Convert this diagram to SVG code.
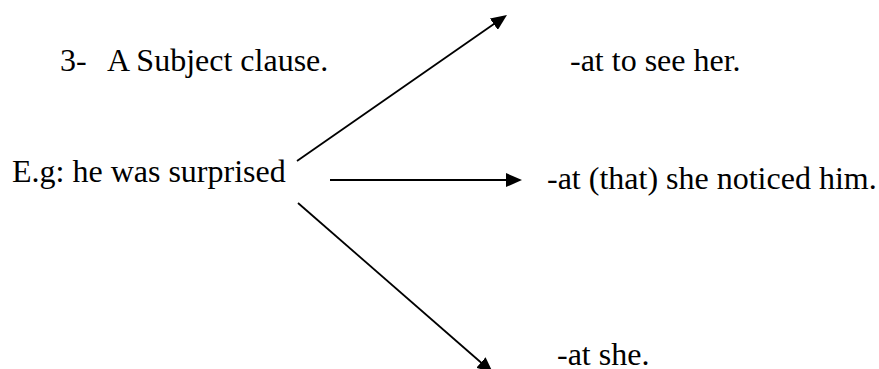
<svg xmlns="http://www.w3.org/2000/svg" width="879" height="369" viewBox="0 0 879 369">
  <style>
    .t { font-family: "Liberation Serif", "Times New Roman", serif; font-size: 32px; fill: #000; }
    .edge { stroke: #000; stroke-width: 1.8; fill: none; marker-end: url(#head); }
  </style>
  <defs>
    <!-- solid triangular arrowhead; refX at mid-length so the line end sits inside it -->
    <marker id="head" markerUnits="userSpaceOnUse" viewBox="0 0 16 14" refX="8" refY="7" markerWidth="16" markerHeight="14" orient="auto">
      <path d="M0,0 L16,7 L0,14 Z" fill="#000"/>
    </marker>
  </defs>
  <rect width="879" height="369" fill="#fff"/>

  <g id="heading">
    <text class="t" x="60" y="71">3-</text>
    <text class="t" x="107" y="71">A Subject clause.</text>
  </g>
  <g id="example">
    <text class="t" x="12" y="182">E.g: he was surprised</text>
  </g>
  <g id="option-infinitive">
    <text class="t" x="570" y="71">-at to see her.</text>
  </g>
  <g id="option-that">
    <text class="t" x="547" y="189">-at (that) she noticed him.</text>
  </g>
  <g id="option-she">
    <text class="t" x="557" y="365">-at she.</text>
  </g>

  <g id="connectors">
    <line class="edge" x1="297" y1="161" x2="500.4" y2="19.6"/>
    <line class="edge" x1="330" y1="180" x2="514" y2="180"/>
    <line class="edge" x1="298" y1="203" x2="487" y2="367.7"/>
  </g>
</svg>
